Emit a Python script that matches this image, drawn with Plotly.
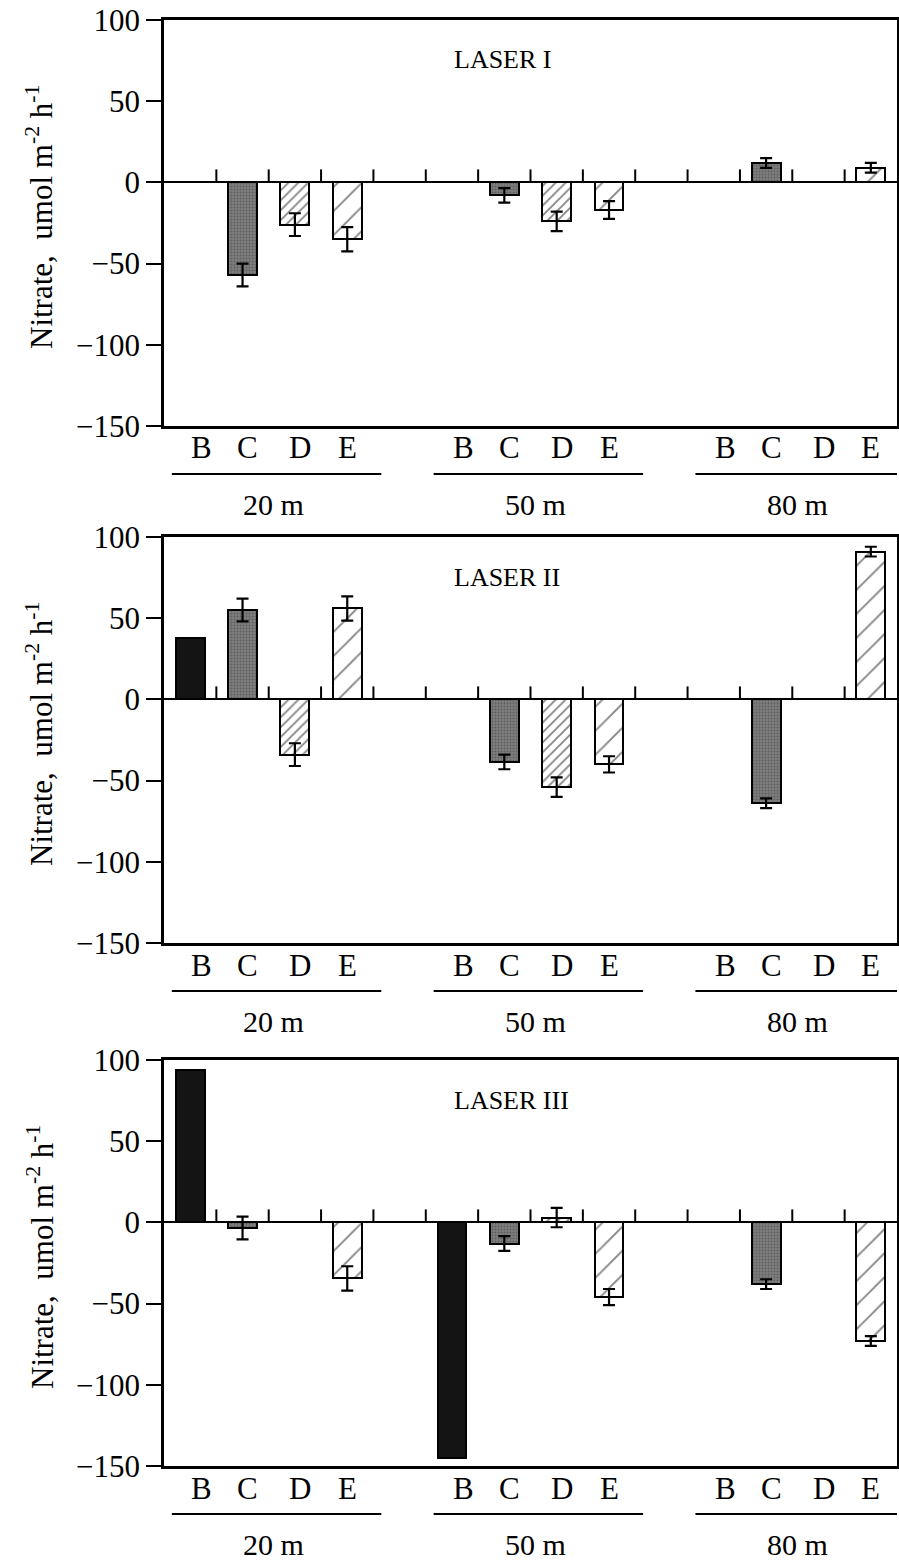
import plotly.graph_objects as go

# ---------------- data ----------------
treatments = ["B", "C", "D", "E"]
depths = ["20 m", "50 m", "80 m"]
panel_titles = ["LASER I", "LASER II", "LASER III"]
y_tickvals = [-150, -100, -50, 0, 50, 100]
y_ticktext = ["\u2212150", "\u2212100", "\u221250", "0", "50", "100"]

# values at 20 m, 50 m, 80 m  (umol m-2 h-1)
laser1_B = [None, None, None]
laser1_C = [-57, -8, 12]
laser1_D = [-26, -24, None]
laser1_E = [-35, -17, 9]
laser1_B_err = [None, None, None]
laser1_C_err = [7, 4.5, 3]
laser1_D_err = [7, 6, None]
laser1_E_err = [7.5, 5.5, 3]

laser2_B = [38, None, None]
laser2_C = [55, -38.5, -64]
laser2_D = [-34, -54, None]
laser2_E = [56, -40, 91]
laser2_B_err = [None, None, None]
laser2_C_err = [7, 4.5, 3]
laser2_D_err = [7, 6, None]
laser2_E_err = [7.5, 5, 3]

laser3_B = [94, -145, None]
laser3_C = [-3.5, -13, -38]
laser3_D = [None, 3, None]
laser3_E = [-34.5, -46, -73]
laser3_B_err = [None, None, None]
laser3_C_err = [7, 4.5, 3]
laser3_D_err = [None, 6, None]
laser3_E_err = [7.5, 5, 3]

panels = [
    ([laser1_B, laser1_C, laser1_D, laser1_E],
     [laser1_B_err, laser1_C_err, laser1_D_err, laser1_E_err]),
    ([laser2_B, laser2_C, laser2_D, laser2_E],
     [laser2_B_err, laser2_C_err, laser2_D_err, laser2_E_err]),
    ([laser3_B, laser3_C, laser3_D, laser3_E],
     [laser3_B_err, laser3_C_err, laser3_D_err, laser3_E_err]),
]

# ---------------- layout helpers ----------------
W, H = 899, 1562
FONT = "Liberation Serif, Times New Roman, serif"
group_step = 5
n_slots = group_step * (len(depths) - 1) + len(treatments)  # 14
x_range = [-0.5, n_slots - 0.5]
y_range = [-150, 100]

plot_left, plot_right = 164, 897
tops = [20, 537, 1060]
bottoms = [426, 943, 1466]

def py(px):
    return 1 - px / H

styles = {
    "B": dict(color="#141414"),
    "C": dict(color="#737373",
              pattern=dict(shape=".", fgcolor="#3c3c3c", bgcolor="#7e7e7e",
                           size=3, solidity=0.3)),
    "D": dict(color="white",
              pattern=dict(shape="/", fgcolor="#111111", bgcolor="white",
                           size=7, solidity=0.27)),
    "E": dict(color="white",
              pattern=dict(shape="/", fgcolor="#111111", bgcolor="white",
                           size=17, solidity=0.11)),
}
label_shift = {"B": 0.22, "C": 0.1, "D": 0.1, "E": 0.0}

fig = go.Figure()
layout = dict(
    width=W, height=H,
    margin=dict(l=0, r=0, t=0, b=0, autoexpand=False),
    paper_bgcolor="white", plot_bgcolor="white",
    font=dict(family=FONT, color="black", size=28),
    showlegend=False, bargap=0,
)
annotations = []
shapes = []

zero_ticks = [i + 0.5 for i in range(n_slots - 1)]
tick_len_units = 8  # length of the small upward ticks on the zero line

for k, (vals, errs) in enumerate(panels):
    sfx = "" if k == 0 else str(k + 1)
    xa, ya = "x" + sfx, "y" + sfx
    dom_y = [py(bottoms[k]), py(tops[k])]
    for ti, t in enumerate(treatments):
        xs = [g * group_step + ti for g in range(len(depths))]
        err = errs[ti]
        has_err = any(e is not None for e in err)
        fig.add_trace(go.Bar(
            x=xs, y=vals[ti], xaxis=xa, yaxis=ya, width=0.55,
            marker=dict(line=dict(color="black", width=2), **styles[t]),
            error_y=dict(type="data", array=err, visible=has_err,
                         color="black", thickness=2.2, width=6),
            hoverinfo="x+y",
        ))
    # small upward ticks between bar slots, sitting on the zero line
    tx, ty = [], []
    for v in zero_ticks:
        tx += [v, v, None]
        ty += [0, tick_len_units, None]
    fig.add_trace(go.Scatter(
        x=tx, y=ty, xaxis=xa, yaxis=ya, mode="lines",
        line=dict(color="black", width=2), hoverinfo="skip",
    ))
    layout["xaxis" + sfx] = dict(
        domain=[plot_left / W, plot_right / W], anchor=ya, range=x_range,
        showline=True, linecolor="black", linewidth=2.5, mirror=True,
        ticks="", showticklabels=False, automargin=False,
        showgrid=False, zeroline=False, fixedrange=True,
    )
    layout["yaxis" + sfx] = dict(
        domain=dom_y, anchor=xa, range=y_range,
        showline=True, linecolor="black", linewidth=2.5, mirror=True,
        ticks="outside", ticklen=15, tickwidth=2, tickcolor="black",
        tickvals=y_tickvals, ticktext=y_ticktext,
        tickfont=dict(size=31, family=FONT), automargin=False,
        showgrid=False, zeroline=True, zerolinecolor="black",
        zerolinewidth=2.2, fixedrange=True,
    )
    # panel title
    annotations.append(dict(
        text=panel_titles[k], xref="paper", yref="paper",
        x=452 / W, y=py(tops[k] + 40), xanchor="left", yanchor="middle",
        showarrow=False, font=dict(size=26, family=FONT),
    ))
    # y-axis title
    annotations.append(dict(
        text="Nitrate,\u00a0 umol m<sup>-2</sup> h<sup>-1</sup>",
        xref="paper", yref="paper", x=40 / W,
        y=py((tops[k] + bottoms[k]) / 2 - 6),
        xanchor="center", yanchor="middle", textangle=-90,
        showarrow=False, font=dict(size=31, family=FONT),
    ))
    # treatment letters under each slot
    for g in range(len(depths)):
        for ti, t in enumerate(treatments):
            annotations.append(dict(
                text=t, xref=xa, yref="paper",
                x=g * group_step + ti + label_shift[t],
                y=py(bottoms[k] + 22), xanchor="center", yanchor="middle",
                showarrow=False, font=dict(size=31, family=FONT),
            ))
    # depth group lines and labels
    for g, d in enumerate(depths):
        start = g * group_step
        shapes.append(dict(
            type="line", xref=xa, yref="paper",
            x0=start - 0.35, x1=start + len(treatments) - 0.35,
            y0=py(bottoms[k] + 48), y1=py(bottoms[k] + 48),
            line=dict(color="black", width=2.2),
        ))
        annotations.append(dict(
            text=d, xref=xa, yref="paper", x=start + 1.6,
            y=py(bottoms[k] + 78), xanchor="center", yanchor="middle",
            showarrow=False, font=dict(size=30, family=FONT),
        ))

layout["annotations"] = annotations
layout["shapes"] = shapes
fig.update_layout(**layout)
fig.write_html(
    "out.html",
    config={"displayModeBar": False},
    post_script="document.body.style.margin='0';"
                "document.body.style.overflow='hidden';",
)
